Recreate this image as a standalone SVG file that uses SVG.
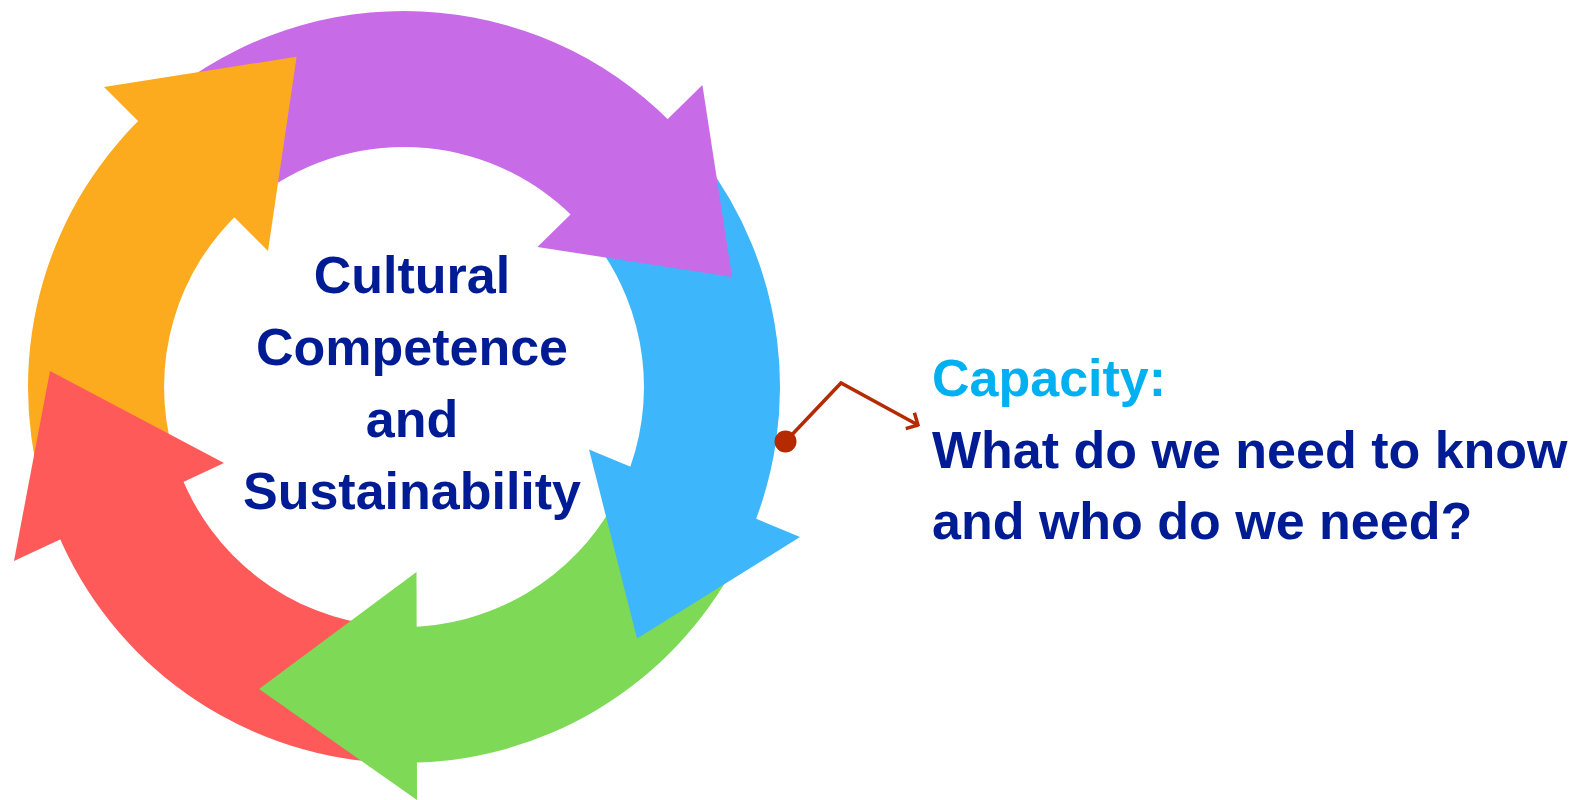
<svg xmlns="http://www.w3.org/2000/svg" width="1587" height="800" viewBox="0 0 1587 800">
  <style>
    .purple { fill: #C86BE6; }
    .blue { fill: #3DB6FC; }
    .green { fill: #7ED957; }
    .red { fill: #FF5A5A; }
    .orange { fill: #FCAB1E; }
    .label { font-family: "Liberation Sans", Arial, sans-serif; font-weight: bold; font-size: 52px; }
    .navy { fill: #001C94; }
    .cyan { fill: #00B0F0; }
    .callout { fill: none; stroke: #B52A00; stroke-width: 3.5; stroke-linejoin: miter; }
  </style>
  <defs>
    <marker id="open-arrow" markerUnits="userSpaceOnUse" viewBox="-12 -12 14 24" markerWidth="14" markerHeight="24" refX="0" refY="0" orient="auto">
      <path d="M-9,-9 L0,0 L-9,9" fill="none" stroke="#B52A00" stroke-width="3.5"/>
    </marker>
  </defs>
  <rect width="1587" height="800" fill="#FFFFFF"/>

  <g id="cycle">
    <g id="arrow-bodies">
      <path id="purple-body" class="purple" d="M177.7,86.7 A376,376 0 0 1 682.1,134.0 L581.5,225.5 A240,240 0 0 0 259.6,195.3 Z"/>
      <path id="blue-body" class="blue" d="M703.1,159.1 A376,376 0 0 1 750.1,533.9 L624.9,480.8 A240,240 0 0 0 594.9,241.6 Z"/>
      <path id="green-body" class="green" d="M736.0,563.5 A376,376 0 0 1 400.7,763.0 L401.9,627.0 A240,240 0 0 0 615.9,499.7 Z"/>
      <path id="red-body" class="red" d="M368.0,761.3 A376,376 0 0 1 52.3,519.9 L179.5,471.8 A240,240 0 0 0 381.0,625.9 Z"/>
      <path id="orange-body" class="orange" d="M42.0,488.7 A376,376 0 0 1 152.4,107.6 L243.4,208.7 A240,240 0 0 0 173.0,451.9 Z"/>
    </g>
    <g id="arrow-heads">
      <polygon id="purple-head" class="purple" points="702.4,85 732,277 537.4,247"/>
      <polygon id="blue-head" class="blue" points="800,537 637,638.5 589,449.4"/>
      <polygon id="green-head" class="green" points="417,800 259,689 416.5,572"/>
      <polygon id="red-head" class="red" points="14,561 50,371 224,463"/>
      <polygon id="orange-head" class="orange" points="104,87 296.6,56.7 268,251"/>
    </g>
  </g>

  <g id="center-label" class="label navy" text-anchor="middle">
    <text x="412" y="292.5">Cultural</text>
    <text x="412" y="365">Competence</text>
    <text x="412" y="437">and</text>
    <text x="412" y="509">Sustainability</text>
  </g>

  <g id="capacity-label" class="label">
    <text class="cyan" x="932" y="396">Capacity:</text>
    <text class="navy" x="932" y="468">What do we need to know</text>
    <text class="navy" x="932" y="539">and who do we need?</text>
  </g>

  <g id="connectors">
    <circle cx="785.5" cy="441.5" r="11" fill="#B52A00"/>
    <polyline class="callout" points="785.5,441.5 841,383 918,425" marker-end="url(#open-arrow)"/>
  </g>
</svg>
